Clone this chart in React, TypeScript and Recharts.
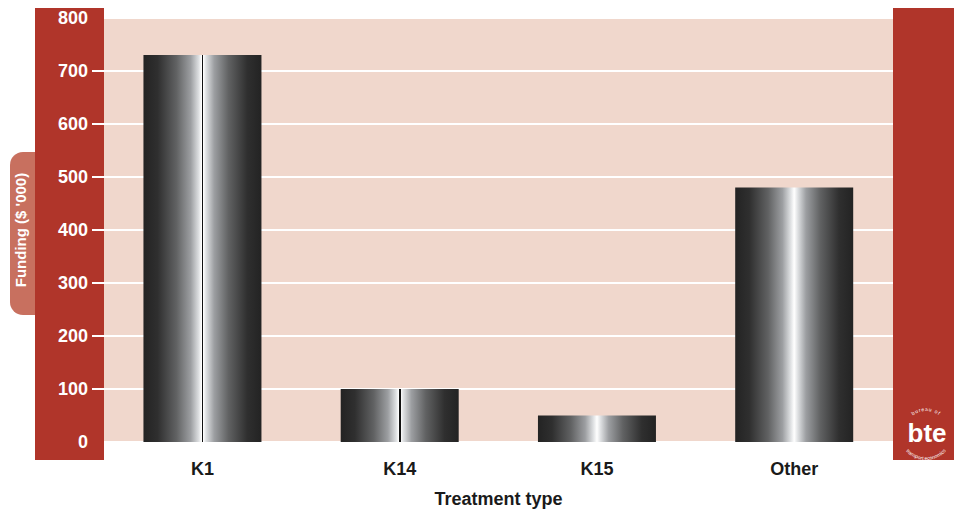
import { BarChart, Bar, XAxis, YAxis, CartesianGrid, Cell } from 'recharts';

const CATEGORIES = ['K1', 'K14', 'K15', 'Other'];
const FUNDING = [730, 100, 50, 480];
const SPLIT = [true, true, false, false];
const Y_TICKS = [0, 100, 200, 300, 400, 500, 600, 700, 800];

const data = CATEGORIES.map((name, i) => ({ name, value: FUNDING[i], split: SPLIT[i] }));

const FONT = '"Liberation Sans", Arial, Helvetica, sans-serif';
const RED = '#b0352a';
const PINK = '#f0d7cc';
const TAB = '#c8705f';

const SHADE = [
  [0, '#232323'],
  [0.12, '#2f2f2f'],
  [0.28, '#616263'],
  [0.4, '#9c9ea1'],
  [0.47, '#dfe1e3'],
  [0.5, '#ffffff'],
  [0.53, '#dfe1e3'],
  [0.6, '#9c9ea1'],
  [0.72, '#616263'],
  [0.88, '#2f2f2f'],
  [1, '#232323'],
] as const;

// white tick stub inside the red panel, only for the inner gridlines
const YTick = (props: any) => {
  const { x, y, payload } = props;
  const v = payload.value;
  return (
    <g>
      {v > 0 && v < 800 && (
        <line x1={x - 4} x2={x + 8} y1={y} y2={y} stroke="#fff" strokeWidth={2} />
      )}
      <text
        x={x - 8}
        y={y}
        dy={6}
        textAnchor="end"
        fill="#fff"
        fontSize={18}
        fontWeight="bold"
        fontFamily={FONT}
      >
        {v}
      </text>
    </g>
  );
};

function Logo() {
  return (
    <svg width={62} height={68} style={{ position: 'absolute', left: 895, top: 402 }}>
      <defs>
        <path id="arcTop" d="M 9 31 A 22 22 0 0 1 53 31" />
        <path id="arcBottom" d="M 4 31 A 27 27 0 0 0 58 31" />
      </defs>
      <text fontSize={5} fill="#fff" fontFamily={FONT} letterSpacing={0.8}>
        <textPath href="#arcTop" startOffset="50%" textAnchor="middle">bureau of</textPath>
      </text>
      <text fontSize={5} fill="#fff" fontFamily={FONT}>
        <textPath href="#arcBottom" startOffset="50%" textAnchor="middle">transport economics</textPath>
      </text>
      <text x={32} y={40} textAnchor="middle" fill="#fff" fontSize={26} fontWeight="bold" fontFamily={FONT}>
        bte
      </text>
    </svg>
  );
}

export default function App() {
  document.body.style.margin = '0';
  return (
    <div style={{ position: 'relative', width: 954, height: 511, background: '#fff' }}>
      <div style={{ position: 'absolute', left: 10, top: 152, width: 40, height: 163, background: TAB, borderRadius: '13px 0 0 13px' }} />
      <div style={{ position: 'absolute', left: 35, top: 8, width: 69, height: 452, background: RED }} />
      <div style={{ position: 'absolute', left: 893, top: 8, width: 61, height: 452, background: RED }} />
      <svg width={30} height={200} style={{ position: 'absolute', left: 8, top: 131 }}>
        <text
          transform="translate(18,99) rotate(-90)"
          textAnchor="middle"
          fill="#fff"
          fontSize={15}
          fontWeight="bold"
          fontFamily={FONT}
        >
          Funding ($ '000)
        </text>
      </svg>
      <div style={{ position: 'absolute', left: 0, top: 0 }}>
        <BarChart
          width={954}
          height={511}
          data={data}
          margin={{ top: 18, right: 61, bottom: 0, left: 35 }}
          barCategoryGap="20%"
        >
          <defs>
            <linearGradient id="shade" x1="0" x2="1" y1="0" y2="0">
              {SHADE.map(([o, c]) => (
                <stop key={o} offset={o} stopColor={c} />
              ))}
            </linearGradient>
            <linearGradient id="shadeSplit" x1="0" x2="1" y1="0" y2="0">
              {SHADE.slice(0, 5).map(([o, c]) => (
                <stop key={o} offset={o} stopColor={c} />
              ))}
              <stop offset={0.492} stopColor="#ffffff" />
              <stop offset={0.493} stopColor="#111111" />
              <stop offset={0.507} stopColor="#111111" />
              <stop offset={0.508} stopColor="#ffffff" />
              {SHADE.slice(6).map(([o, c]) => (
                <stop key={o} offset={o} stopColor={c} />
              ))}
            </linearGradient>
          </defs>
          <CartesianGrid fill={PINK} vertical={false} stroke="#fff" strokeWidth={2} />
          <XAxis
            dataKey="name"
            height={69}
            axisLine={false}
            tickLine={false}
            tick={{ fill: '#1a1a1a', fontSize: 18, fontWeight: 'bold', fontFamily: FONT }}
            tickMargin={14}
            label={{
              value: 'Treatment type',
              position: 'insideBottom',
              offset: 6,
              fill: '#1a1a1a',
              fontSize: 18,
              fontWeight: 'bold',
              fontFamily: FONT,
            }}
          />
          <YAxis
            width={69}
            domain={[0, 800]}
            ticks={Y_TICKS}
            interval={0}
            axisLine={false}
            tickLine={false}
            tick={<YTick />}
          />
          <Bar dataKey="value" isAnimationActive={false}>
            {data.map((d, i) => (
              <Cell key={i} fill={d.split ? 'url(#shadeSplit)' : 'url(#shade)'} />
            ))}
          </Bar>
        </BarChart>
      </div>
      <Logo />
    </div>
  );
}
